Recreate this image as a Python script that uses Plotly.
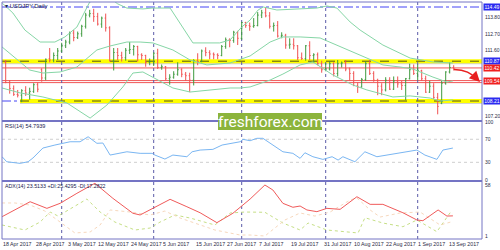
import plotly.graph_objects as go

W, H = 500, 250
def px(x): return x / W
def py(y): return 1 - y / H

# ---------------- data ----------------
bar_idx = list(range(113))
opens = [110.80,109.45,109.05,108.65,108.60,108.90,108.75,108.85,109.30,110.30,109.75,111.05,110.95,111.25,
         111.55,111.90,112.15,112.75,112.45,112.70,113.20,113.95,114.05,113.85,113.35,113.75,113.10,110.90,111.45,111.25,111.10,111.60,111.65,111.85,111.30,111.25,110.80,
         110.85,111.40,110.45,110.50,109.70,109.80,110.00,110.30,110.00,109.90,109.60,110.90,110.85,111.55,111.45,111.35,111.30,111.25,111.85,112.30,112.25,112.80,
         112.40,113.45,113.25,113.20,113.25,113.95,114.10,113.90,113.20,113.25,112.55,112.60,111.95,112.00,111.90,111.10,111.05,111.90,111.25,111.30,110.70,
         110.30,110.35,110.70,110.05,110.70,110.75,110.35,110.05,109.25,109.15,109.65,110.70,110.05,109.60,109.20,108.95,109.60,109.00,109.55,109.35,109.25,109.70,110.30,
         110.05,110.25,109.70,108.80,109.20,108.45,108.05,109.40,110.15,110.45]
highs = [110.95,109.60,109.25,108.95,109.00,109.20,109.10,109.40,109.45,110.40,111.05,111.75,111.45,111.75,
         112.10,112.30,112.85,112.95,112.85,113.30,114.10,114.30,114.37,114.10,113.85,114.05,113.20,111.75,111.75,111.50,111.75,112.15,111.95,111.90,111.40,111.30,111.05,
         111.45,111.70,110.65,110.55,110.00,110.20,110.80,110.40,110.15,110.10,111.00,111.40,111.65,111.80,111.60,111.45,111.40,111.95,112.45,112.40,112.90,112.90,
         113.50,113.50,113.45,113.75,114.15,114.30,114.49,114.15,113.45,113.55,112.80,112.70,112.40,112.40,111.95,111.45,111.95,112.20,111.40,111.45,110.90,
         110.75,110.85,110.80,110.95,110.85,110.95,110.45,110.20,109.45,109.75,110.85,110.95,110.20,109.70,109.40,109.80,109.80,109.85,109.85,109.55,109.75,110.70,110.65,
         110.65,110.30,109.90,109.55,109.40,108.75,109.55,110.20,110.80,110.60]
lows = [109.40,108.70,108.55,108.45,108.13,108.55,108.30,108.75,108.80,109.50,109.60,110.80,110.80,110.95,
        111.45,111.75,112.00,112.20,112.35,112.50,113.05,113.80,113.50,113.25,113.10,112.85,110.85,110.25,110.95,110.85,110.90,111.35,111.25,110.85,110.95,110.50,110.60,
        110.55,110.35,110.30,109.60,109.30,109.70,109.90,109.80,109.55,108.80,109.25,110.60,110.80,111.20,111.00,111.00,111.00,111.20,111.70,111.80,112.10,111.95,
        112.30,113.10,112.90,113.10,113.20,113.75,113.80,113.05,112.85,112.45,112.40,111.70,111.70,111.65,110.95,110.95,110.90,110.95,110.75,110.60,110.10,
        110.20,110.25,109.85,109.85,110.45,110.20,109.55,109.20,108.75,109.10,109.55,109.95,109.50,108.60,108.60,108.85,108.95,108.95,109.10,108.95,108.27,109.65,109.95,
        109.60,109.55,108.75,108.75,108.35,107.32,108.00,109.30,110.05,110.25]
closes = [109.45,109.05,108.65,108.60,108.90,108.75,108.85,109.30,109.00,109.75,111.00,110.95,111.25,111.55,
          111.90,112.15,112.75,112.45,112.70,113.20,113.95,114.05,113.85,113.35,113.75,113.10,110.90,111.45,111.25,111.10,111.60,111.65,111.85,111.30,111.25,110.80,110.85,
          111.40,110.45,110.50,109.70,109.80,110.00,110.30,110.00,109.90,109.60,110.90,110.85,111.55,111.45,111.35,111.30,111.25,111.85,112.30,112.25,112.80,112.40,
          113.45,113.25,113.20,113.25,113.95,114.10,113.90,113.20,113.25,112.55,112.60,111.95,112.00,111.90,111.10,111.05,111.90,111.25,111.30,110.70,110.30,
          110.35,110.70,110.05,110.70,110.75,110.35,110.05,109.25,109.15,109.65,110.70,110.05,109.60,109.20,108.95,109.60,109.00,109.55,109.35,109.25,109.70,110.30,110.05,
          110.25,109.70,108.80,109.20,108.45,107.85,109.40,110.15,110.45,110.35]

# Bollinger bands (bar index, price)
bb_up_x = [-0.9,1.8,4.8,8.6,12.3,14.8,17.8,19.8,21.0,23,26,28,30.3,34.3,36.6,41.1,46.8,53.5,56.1,59.0,61.1,63.1,64.4,67.8,77.8,80.3,82.8,86.1,88.6,94.3,101.1,106.8,111.8]
bb_up_y = [114.76,114.09,112.95,112.15,112.15,112.49,113.15,114.16,114.82,115.00,115.10,114.70,114.42,114.36,114.42,114.42,112.09,112.09,112.29,113.15,113.62,114.29,114.49,114.29,114.42,114.56,114.42,113.49,112.95,111.95,111.08,110.82,110.75]
bb_mid_x = [-0.9,2.3,6.0,9.3,13.6,17.8,22.8,26.0,30.3,33.6,36.8,41.8,46.1,50.3,56.1,61.1,66.1,69.3,73.6,78.6,84.3,90.3,94.3,98.6,101.8,106.8,110.3,111.8]
bb_mid_y = [111.82,111.08,110.28,110.08,110.15,110.48,111.62,111.88,112.15,112.15,112.09,111.62,110.95,110.62,110.75,111.22,112.15,112.49,112.49,112.42,111.75,111.08,110.62,110.48,110.35,109.81,109.48,109.55]
bb_low_x = [-0.9,3.6,9.3,15.3,21.1,25.3,29.3,31.8,34.3,36.8,41.8,46.1,51.1,56.1,58.6,61.1,66.1,69.3,73.6,76.8,81.8,86.8,90.3,96.8,101.1,106.1,108.6,111.8]
bb_low_y = [109.08,108.75,108.48,108.08,107.07,107.94,109.15,110.08,110.15,109.81,109.08,108.81,108.95,109.08,109.08,109.15,109.61,110.01,110.62,110.82,109.95,109.28,108.95,108.48,108.55,108.41,108.21,108.28]

# RSI(14)
rsi_x = [-0.9,0.25,3.6,5.6,6.8,9.3,12.3,16.1,18.6,20.6,22.8,24.3,26.1,28.6,30.3,33.6,36.6,37.3,39.8,41.8,45.3,46.6,48.6,51.8,54.1,58.6,59.3,61.1,62.8,64.3,66.1,67.8,69.3,71.8,73.6,74.8,76.8,79.3,81.6,83.1,84.3,87.3,89.8,92.8,95.3,97.8,100.3,102.8,104.8,107.8,109.3,111.1,111.8]
rsi_y = [39.7,31.0,28.2,31.0,37.4,54.8,60.0,65.7,65.7,74.4,63.0,63.5,42.6,45.6,48.3,45.6,45.6,42.6,35.7,42.6,39.7,48.3,51.3,52.5,60.0,65.7,69.9,67.5,71.7,71.7,63.0,54.3,48.3,45.6,36.9,46.6,39.7,35.1,39.7,33.9,39.7,31.0,48.3,39.7,42.6,45.6,48.3,51.3,42.6,35.1,51.3,54.3,54.8]

# ADX(14), +DI, -DI
adx_x = [-0.9,6.1,10.3,13.6,17.8,22.3,26.8,31.8,33.6,36.8,41.1,45.3,48.6,52.8,56.8,61.1,64.8,66.8,69.3,71.8,73.6,75.3,77.8,80.3,83.6,87.8,91.1,94.3,99.3,102.8,104.3,108.1,110.3,111.8]
adx_y = [22.6,39.3,31.9,37.5,48.7,59.9,43.1,26.4,24.5,31.9,42.0,33.7,27.0,15.9,26.4,42.3,58.0,52.4,37.5,33.1,34.5,30.1,28.2,31.9,30.8,44.9,36.4,36.4,27.0,18.9,18.1,30.1,23.3,23.5]
pdi_x = [-0.9,4.8,8.6,11.1,13.1,17.3,20.3,23.6,27.3,32.3,36.1,38.6,42.3,46.1,49.8,52.3,56.1,59.8,64.8,69.3,73.6,75.6,80.3,88.1,89.8,94.3,99.3,102.8,107.8,111.1,111.8]
pdi_y = [13.3,7.7,16.6,27.8,23.3,34.5,42.3,27.8,16.6,7.7,9.9,16.6,24.5,21.1,16.6,13.3,26.7,27.8,27.5,15.5,7.7,15.5,7.7,4.4,21.4,15.5,11.4,18.9,5.8,27.0,25.4]
mdi_x = [-0.9,2.3,6.1,9.8,13.6,17.3,21.1,23.6,26.1,31.1,36.1,39.8,43.6,48.6,52.3,58.6,61.1,64.8,69.8,73.6,77.3,81.1,86.1,87.8,91.1,93.6,98.6,103.6,108.6,111.8]
mdi_y = [37.9,37.9,35.6,28.9,16.6,4.4,5.5,13.3,30.1,27.8,24.5,28.9,21.1,13.3,7.7,2.1,2.1,1.0,18.9,26.7,23.3,27.8,41.2,43.5,30.1,22.2,26.7,27.8,13.3,17.3]

# levels / labels
level_hi = 114.49
level_res = 110.87
level_sup = 108.21
level_red = [110.42, 109.575, 109.44]
price_ticks = [114.90, 113.80, 112.70, 111.60, 107.20]
price_boxes = [(114.49, "114.49", "#2b2bf0"), (110.87, "110.87", "#2b2bf0"), (110.42, "110.42", "#f02020"),
               (109.54, "109.54", "#f02020"), (108.21, "108.21", "#2b2bf0")]
month_starts = [14, 37, 59, 80, 103]
date_labels = ["18 Apr 2017", "28 Apr 2017", "3 May 2017", "12 May 2017", "24 May 2017", "5 Jun 2017", "15 Jun 2017",
               "27 Jun 2017", "7 Jul 2017", "19 Jul 2017", "31 Jul 2017", "10 Aug 2017", "22 Aug 2017", "1 Sep 2017", "13 Sep 2017"]
date_label_at = [-0.9, 7.3, 15.3, 22.8, 31.1, 39.1, 47.3, 55.1, 63.1, 71.1, 79.3, 86.8, 94.8, 102.8, 110.6]

# ---------------- figure ----------------
fig = go.Figure()
BB = "#86d6a6"
for xs, ys in [(bb_up_x, bb_up_y), (bb_mid_x, bb_mid_y), (bb_low_x, bb_low_y)]:
    fig.add_trace(go.Scatter(x=xs, y=ys, mode="lines", line=dict(color=BB, width=1), hoverinfo="skip",
                             xaxis="x", yaxis="y"))
fig.add_trace(go.Ohlc(x=bar_idx, open=opens, high=highs, low=lows, close=closes,
                      increasing=dict(line=dict(color="#3e9a3e", width=1)),
                      decreasing=dict(line=dict(color="#f05252", width=1)),
                      tickwidth=0.25, xaxis="x", yaxis="y"))
fig.add_trace(go.Scatter(x=rsi_x, y=rsi_y, mode="lines", line=dict(color="#7ab6f2", width=1), xaxis="x", yaxis="y2"))
fig.add_trace(go.Scatter(x=pdi_x, y=pdi_y, mode="lines", line=dict(color="#c6df86", width=1, dash="dot"), xaxis="x", yaxis="y3"))
fig.add_trace(go.Scatter(x=mdi_x, y=mdi_y, mode="lines", line=dict(color="#f7d8bd", width=1, dash="dot"), xaxis="x", yaxis="y3"))
fig.add_trace(go.Scatter(x=adx_x, y=adx_y, mode="lines", line=dict(color="#f05a5a", width=1), xaxis="x", yaxis="y3"))

AX = "#7474c4"
shapes = []
# levels
shapes.append(dict(type="line", xref="paper", yref="y", x0=px(2), x1=px(482), y0=level_hi, y1=level_hi,
                   line=dict(color="#4545f5", width=1, dash="dashdot"), layer="below"))
for lv in level_red:
    shapes.append(dict(type="line", xref="paper", yref="y", x0=px(2), x1=px(482), y0=lv, y1=lv,
                       line=dict(color="#ee4444", width=0.9), layer="below"))
shapes.append(dict(type="line", xref="paper", yref="y", x0=px(2), x1=px(20), y0=level_sup, y1=level_sup,
                   line=dict(color="#4545f5", width=1, dash="dashdot"), layer="below"))
for lv, xs0 in [(level_res, 2), (level_sup, 20)]:
    shapes.append(dict(type="line", xref="paper", yref="y", x0=px(xs0), x1=px(482), y0=lv - 0.14, y1=lv - 0.14,
                       line=dict(color="#d4d4cc", width=2), layer="below"))
    shapes.append(dict(type="line", xref="paper", yref="y", x0=px(xs0), x1=px(482), y0=lv, y1=lv,
                       line=dict(color="#ffff00", width=4), layer="below"))
    shapes.append(dict(type="line", xref="paper", yref="y", x0=px(xs0), x1=px(482), y0=lv, y1=lv,
                       line=dict(color="#55551a", width=1, dash="dash"), layer="below"))
# RSI levels
for lv in [70, 30]:
    shapes.append(dict(type="line", xref="paper", yref="y2", x0=px(2), x1=px(482), y0=lv, y1=lv,
                       line=dict(color="#cfcfcf", width=1, dash="dot"), layer="below"))
# month separators
for m in month_starts:
    shapes.append(dict(type="line", xref="x", yref="paper", x0=m, x1=m, y0=py(239), y1=py(2),
                       line=dict(color="#5a5aa8", width=1, dash="dot"), layer="below"))
# frame
shapes += [
    dict(type="line", xref="paper", yref="paper", x0=px(2), x1=px(482), y0=py(2), y1=py(2), line=dict(color=AX, width=1)),
    dict(type="line", xref="paper", yref="paper", x0=px(2), x1=px(2), y0=py(2), y1=py(239), line=dict(color=AX, width=1)),
    dict(type="line", xref="paper", yref="paper", x0=px(482), x1=px(482), y0=py(2), y1=py(239), line=dict(color=AX, width=1)),
    dict(type="line", xref="paper", yref="paper", x0=px(2), x1=px(482), y0=py(239), y1=py(239), line=dict(color=AX, width=1)),
    dict(type="line", xref="paper", yref="paper", x0=px(2), x1=px(482), y0=py(121), y1=py(121), line=dict(color=AX, width=2)),
    dict(type="line", xref="paper", yref="paper", x0=px(2), x1=px(482), y0=py(181), y1=py(181), line=dict(color=AX, width=2)),
]
# watermark box
shapes.append(dict(type="rect", xref="paper", yref="paper", x0=px(218), x1=px(322), y0=py(130), y1=py(113),
                   fillcolor="#8cb43c", line=dict(width=0)))
# curved arrow
shapes.append(dict(type="path", xref="paper", yref="paper",
                   path=f"M {px(454)} {py(69.5)} Q {px(470)} {py(70)} {px(476)} {py(79)}",
                   line=dict(color="#e82020", width=1.5)))

ann = []
TXT = "#2a2a44"
FONT = "Liberation Sans"
for t in price_ticks:
    ann.append(dict(x=px(484), y=t, xref="paper", yref="y", text=f"{t:.2f}", showarrow=False,
                    xanchor="left", yanchor="middle", borderpad=0,
                    font=dict(size=5, color=TXT, family=FONT)))
for v, txt, col in price_boxes:
    ann.append(dict(x=px(483), y=v, xref="paper", yref="y", text=txt, showarrow=False, xanchor="left",
                    yanchor="middle", bgcolor=col, width=16, height=6, borderpad=0,
                    font=dict(size=5, color="white", family=FONT)))
for t in [100, 70, 30, 0]:
    ann.append(dict(x=px(484), y=t, xref="paper", yref="y2", text=str(t), showarrow=False,
                    xanchor="left", yanchor="middle", borderpad=0, font=dict(size=5, color=TXT, family=FONT)))
for t in [58, 1]:
    ann.append(dict(x=px(484), y=t, xref="paper", yref="y3", text=str(t), showarrow=False,
                    xanchor="left", yanchor="middle", borderpad=0, font=dict(size=5, color=TXT, family=FONT)))
for lab, at in zip(date_labels, date_label_at):
    ann.append(dict(x=at, y=py(244), xref="x", yref="paper", text=lab, showarrow=False,
                    xanchor="left", yanchor="middle", borderpad=0, font=dict(size=5.3, color=TXT, family=FONT)))
ann.append(dict(x=px(3), y=py(5.5), xref="paper", yref="paper", text="▾ USDJPY,Daily", showarrow=False,
                xanchor="left", yanchor="middle", font=dict(size=6, color="#202050", family=FONT)))
ann.append(dict(x=px(3), y=py(125.5), xref="paper", yref="paper", text="RSI(14) 54.7939", showarrow=False,
                xanchor="left", yanchor="middle", font=dict(size=5.5, color="#202050", family=FONT)))
ann.append(dict(x=px(3), y=py(185.5), xref="paper", yref="paper",
                text="ADX(14) 23.5133 +DI:25.4295 -DI:17.2822", showarrow=False,
                xanchor="left", yanchor="middle", font=dict(size=5.3, color="#202050", family=FONT)))
ann.append(dict(x=px(270), y=py(121.5), xref="paper", yref="paper", text="freshforex.com", showarrow=False,
                xanchor="center", yanchor="middle", font=dict(size=15.5, color="white", family="Roboto")))
ann.append(dict(x=px(480), y=py(82), xref="paper", yref="paper", ax=-4, ay=-4,
                text="", showarrow=True, arrowhead=2, arrowsize=1.4,
                arrowwidth=1.5, arrowcolor="#e82020"))

fig.update_layout(
    width=W, height=H, margin=dict(l=0, r=0, t=0, b=0), paper_bgcolor="white", plot_bgcolor="white",
    showlegend=False, shapes=shapes, annotations=ann,
    xaxis=dict(domain=[px(2), px(482)], range=[-0.925, 119.075], visible=False, anchor="y3",
               rangeslider=dict(visible=False), fixedrange=True),
    yaxis=dict(domain=[py(121), py(2)], range=[106.875, 114.824], visible=False, anchor="x"),
    yaxis2=dict(domain=[py(181), py(121)], range=[-2.43, 101.74], visible=False, anchor="x"),
    yaxis3=dict(domain=[py(239), py(181)], range=[-2.35, 62.47], visible=False, anchor="x"),
)
fig.write_html("out.html")
